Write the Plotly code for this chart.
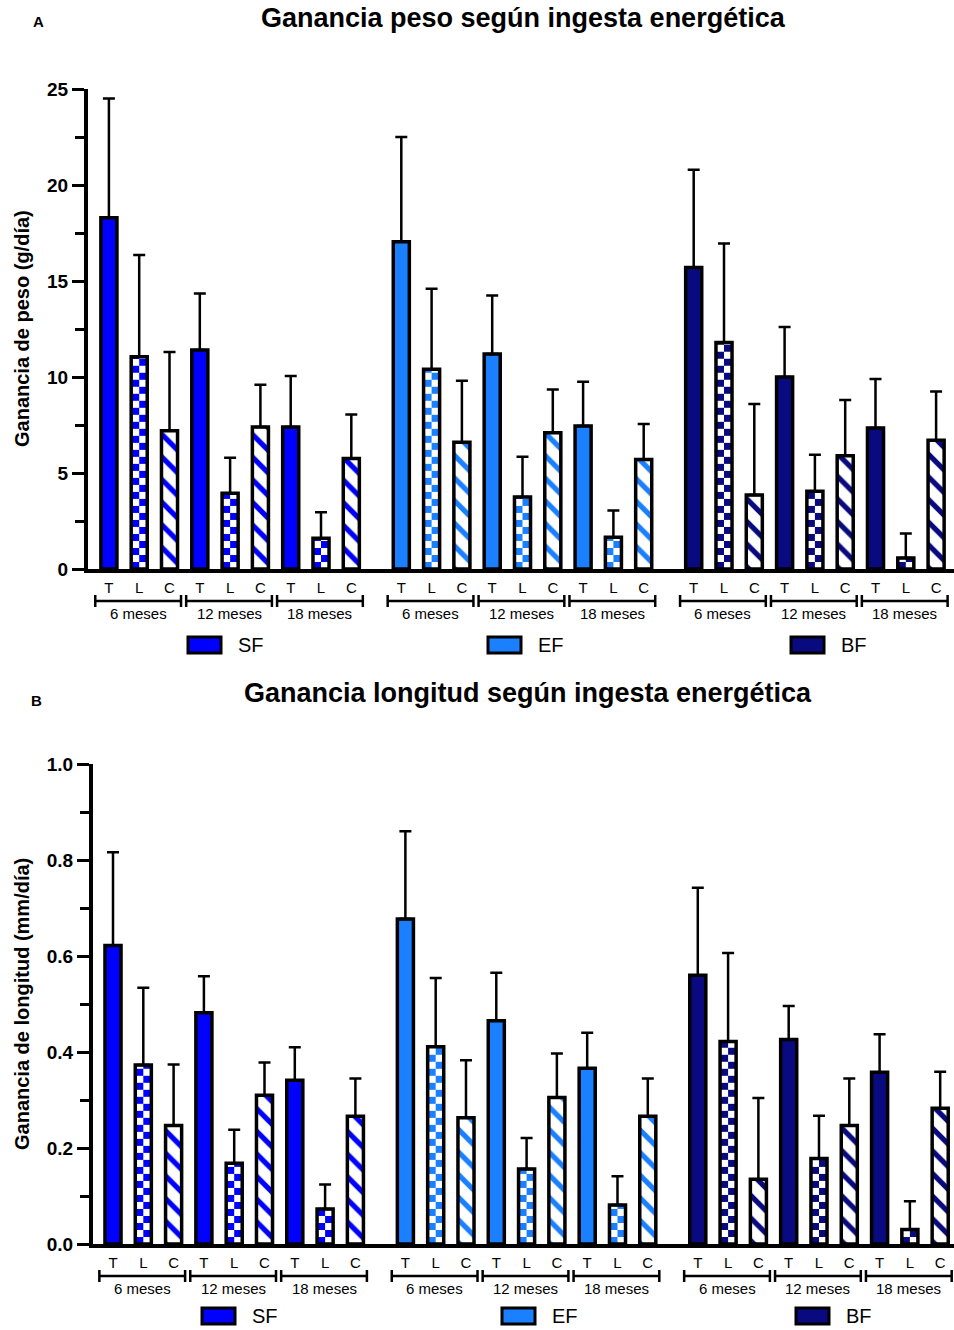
import math
import plotly.graph_objects as go

# ---------------- data ----------------
groups = ["SF", "EF", "BF"]
periods = ["6 meses", "12 meses", "18 meses"]
types = ["T", "L", "C"]

# Panel A: Ganancia de peso (g/día); order: 6m T,L,C | 12m T,L,C | 18m T,L,C
peso_mean_SF = [18.30, 11.05, 7.20, 11.40, 3.95, 7.40, 7.40, 1.60, 5.75]
peso_sd_SF = [6.20, 5.30, 4.10, 2.95, 1.85, 2.20, 2.65, 1.35, 2.30]
peso_mean_EF = [17.05, 10.40, 6.60, 11.20, 3.75, 7.10, 7.45, 1.65, 5.70]
peso_sd_EF = [5.45, 4.20, 3.20, 3.05, 2.10, 2.25, 2.30, 1.40, 1.85]
peso_mean_BF = [15.70, 11.80, 3.85, 10.00, 4.05, 5.90, 7.35, 0.57, 6.70]
peso_sd_BF = [5.10, 5.15, 4.75, 2.60, 1.90, 2.90, 2.55, 1.28, 2.55]

# Panel B: Ganancia de longitud (mm/día)
long_mean_SF = [0.622, 0.373, 0.247, 0.482, 0.168, 0.310, 0.341, 0.073, 0.266]
long_sd_SF = [0.194, 0.161, 0.127, 0.076, 0.070, 0.068, 0.069, 0.051, 0.079]
long_mean_EF = [0.677, 0.411, 0.263, 0.465, 0.156, 0.305, 0.366, 0.081, 0.266]
long_sd_EF = [0.183, 0.143, 0.120, 0.100, 0.065, 0.092, 0.074, 0.060, 0.079]
long_mean_BF = [0.560, 0.422, 0.135, 0.426, 0.178, 0.247, 0.358, 0.030, 0.283]
long_sd_BF = [0.182, 0.184, 0.169, 0.070, 0.089, 0.098, 0.079, 0.059, 0.076]

peso_ticks = [0, 5, 10, 15, 20, 25]
long_ticks = [0.0, 0.2, 0.4, 0.6, 0.8, 1.0]

colors = {"SF": "#0000FF", "EF": "#1A80FF", "BF": "#0A0A80"}

# ---------------- layout helpers ----------------
W, H = 954, 1330
FONT = "Liberation Sans, Arial, sans-serif"
GAP = 9.65      # distance between group starts (in bar slots)
BW = 0.53       # bar width (slots)
OUT = 3.5       # outline width


def px(x):
    return x / W


def py(y):
    return 1 - y / H


def positions(g):
    return [g * GAP + i for i in range(9)]


fig = go.Figure()
shapes = []
annotations = []


def add_panel(xa, ya, xref, means, sds, cell_h, bracket_px, label_px):
    for g, grp in enumerate(groups):
        col = colors[grp]
        pos = positions(g)
        m = means[grp]
        s = sds[grp]
        for t, typ in enumerate(types):
            idx = [p * 3 + t for p in range(3)]
            xs = [pos[i] for i in idx]
            ys = [m[i] for i in idx]
            es = [s[i] for i in idx]
            err = dict(type="data", array=es, arrayminus=[0] * 3, symmetric=False,
                       color="black", thickness=2.5, width=6)
            line = dict(color="black", width=OUT)
            if typ == "T":
                fig.add_bar(x=xs, y=ys, width=BW, xaxis=xa, yaxis=ya, showlegend=False,
                            marker=dict(color=col, line=line), error_y=err)
            elif typ == "C":
                fig.add_bar(x=xs, y=ys, width=BW, xaxis=xa, yaxis=ya, showlegend=False,
                            marker=dict(color=col, line=line,
                                        pattern=dict(shape="\\", fgcolor=col, bgcolor="white",
                                                     fillmode="replace", size=16, solidity=0.33)),
                            error_y=err)
            else:
                # white base
                fig.add_bar(x=xs, y=ys, width=BW, xaxis=xa, yaxis=ya, showlegend=False,
                            marker=dict(color="white", line=dict(width=0)))
                # checkerboard cells derived from values
                cx, cb, ch, co = [], [], [], []
                for xv, yv in zip(xs, ys):
                    n = int(math.ceil(yv / cell_h - 1e-9))
                    for k in range(n):
                        base = k * cell_h
                        cx.append(xv)
                        cb.append(base)
                        ch.append(min(cell_h, yv - base))
                        co.append(-BW / 2 if k % 2 == 0 else 0)
                fig.add_bar(x=cx, y=ch, base=cb, offset=co, width=BW / 2, xaxis=xa, yaxis=ya,
                            showlegend=False, marker=dict(color=col, line=dict(width=0)))
                # outline + error bars
                fig.add_bar(x=xs, y=ys, width=BW, xaxis=xa, yaxis=ya, showlegend=False,
                            marker=dict(color="rgba(0,0,0,0)", line=line), error_y=err)
        # period brackets
        for p, per in enumerate(periods):
            x0 = pos[p * 3] - 0.45
            x1 = pos[p * 3 + 2] + 0.38
            yb = py(bracket_px)
            shapes.append(dict(type="line", xref=xref, yref="paper", x0=x0, x1=x1, y0=yb, y1=yb,
                               line=dict(color="black", width=2.5)))
            for xe in (x0, x1):
                shapes.append(dict(type="line", xref=xref, yref="paper", x0=xe, x1=xe,
                                   y0=py(bracket_px - 6), y1=py(bracket_px + 6),
                                   line=dict(color="black", width=2.5)))
            annotations.append(dict(xref=xref, yref="paper", x=(x0 + x1) / 2, y=py(label_px),
                                    text=per, showarrow=False, xanchor="center", yanchor="middle",
                                    font=dict(family=FONT, size=15, color="black")))


add_panel("x", "y", "x",
          {"SF": peso_mean_SF, "EF": peso_mean_EF, "BF": peso_mean_BF},
          {"SF": peso_sd_SF, "EF": peso_sd_EF, "BF": peso_sd_BF},
          0.365, 601, 613)
add_panel("x2", "y2", "x2",
          {"SF": long_mean_SF, "EF": long_mean_EF, "BF": long_mean_BF},
          {"SF": long_sd_SF, "EF": long_sd_EF, "BF": long_sd_BF},
          0.0146, 1276, 1288)

# legends drawn per group
legend_A = [(188, 645), (488, 645), (791, 645)]
legend_B = [(202, 1316), (502, 1316), (796, 1316)]
for lst in (legend_A, legend_B):
    for grp, (lx, ly) in zip(groups, lst):
        shapes.append(dict(type="rect", xref="paper", yref="paper",
                           x0=px(lx), x1=px(lx + 33), y0=py(ly - 8), y1=py(ly + 8),
                           fillcolor=colors[grp], line=dict(color="black", width=3)))
        annotations.append(dict(xref="paper", yref="paper", x=px(lx + 48), y=py(ly),
                                text=grp, showarrow=False, xanchor="left", yanchor="middle",
                                font=dict(family=FONT, size=20, color="black")))

# titles / labels
annotations += [
    dict(xref="paper", yref="paper", x=px(523), y=py(18), text="Ganancia peso según ingesta energética",
         showarrow=False, xanchor="center", yanchor="middle",
         font=dict(family=FONT, size=27, color="black", weight="bold")),
    dict(xref="paper", yref="paper", x=px(528), y=py(693), text="Ganancia longitud según ingesta energética",
         showarrow=False, xanchor="center", yanchor="middle",
         font=dict(family=FONT, size=27, color="black", weight="bold")),
    dict(xref="paper", yref="paper", x=px(38), y=py(21), text="A", showarrow=False,
         xanchor="center", yanchor="middle", font=dict(family=FONT, size=15, color="black", weight="bold")),
    dict(xref="paper", yref="paper", x=px(36), y=py(700), text="B", showarrow=False,
         xanchor="center", yanchor="middle", font=dict(family=FONT, size=15, color="black", weight="bold")),
    dict(xref="paper", yref="paper", x=px(22), y=py(329), text="Ganancia de peso (g/día)",
         showarrow=False, textangle=-90, xanchor="center", yanchor="middle",
         font=dict(family=FONT, size=20, color="black", weight="bold")),
    dict(xref="paper", yref="paper", x=px(22), y=py(1004), text="Ganancia de longitud (mm/día)",
         showarrow=False, textangle=-90, xanchor="center", yanchor="middle",
         font=dict(family=FONT, size=20, color="black", weight="bold")),
]

all_pos = positions(0) + positions(1) + positions(2)
tick_text = types * 9


def xaxis_cfg(dom_left, rng_left):
    return dict(domain=[px(dom_left), 1], range=[rng_left, rng_left + (W - dom_left) / 30.3],
                automargin=False,
                showline=True, linewidth=4, linecolor="black", showgrid=False, zeroline=False,
                ticks="outside", ticklen=2, tickcolor="rgba(0,0,0,0)",
                tickvals=all_pos, ticktext=tick_text,
                tickfont=dict(family=FONT, size=15, color="black"), fixedrange=True)


def yaxis_cfg(top, bottom, rng, tickvals, fmt, minor):
    return dict(domain=[py(bottom), py(top)], range=rng, automargin=False,
                showline=True, linewidth=4,
                linecolor="black", showgrid=False, zeroline=False, ticks="outside",
                ticklen=12, tickwidth=3, tickcolor="black", tickvals=tickvals, tickformat=fmt,
                minor=dict(dtick=minor, ticks="outside", ticklen=9, tickwidth=3, tickcolor="black",
                           showgrid=False),
                tickfont=dict(family=FONT, size=19, color="black", weight="bold"), fixedrange=True)


fig.update_layout(
    template="none",
    width=W, height=H, margin=dict(l=0, r=0, t=0, b=0, pad=0, autoexpand=False),
    paper_bgcolor="white", plot_bgcolor="white", barmode="overlay",
    showlegend=False,
    xaxis=dict(anchor="y", **xaxis_cfg(88, -0.69)),
    yaxis=dict(anchor="x", **yaxis_cfg(89, 569, [0, 25], peso_ticks, "d", 2.5)),
    xaxis2=dict(anchor="y2", **xaxis_cfg(93, -0.66)),
    yaxis2=dict(anchor="x2", **yaxis_cfg(764, 1244, [0, 1.0], long_ticks, ".1f", 0.1)),
    shapes=shapes, annotations=annotations,
)

fig.write_html("out.html")
